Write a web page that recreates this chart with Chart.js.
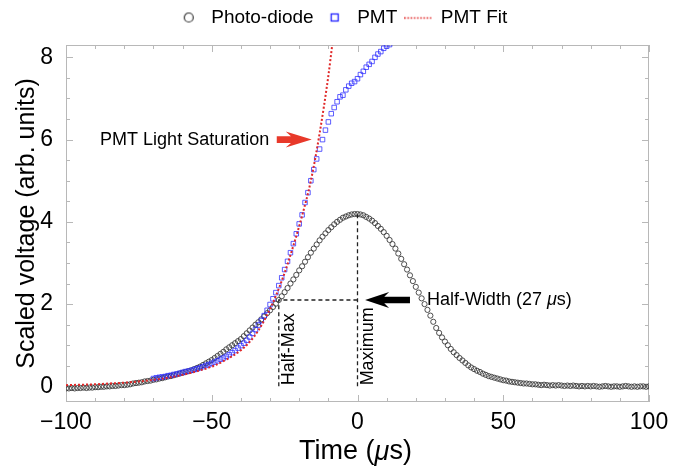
<!DOCTYPE html>
<html>
<head>
<meta charset="utf-8">
<script src="https://cdn.jsdelivr.net/npm/chart.js@4.4.0/dist/chart.umd.min.js"></script>
<style>
html, body { margin: 0; padding: 0; background: #fff; }
#wrap { width: 683px; height: 470px; }
</style>
</head>
<body>
<div id="wrap"><canvas id="myChart" width="683" height="470"></canvas></div>
<script>
// photo-diode trace, one sample per microsecond
var pdTime = [
  -100,-99,-98,-97,-96,-95,-94,-93,-92,-91,-90,-89,-88,-87,-86,-85,-84,-83,-82,-81,
  -80,-79,-78,-77,-76,-75,-74,-73,-72,-71,-70,-69,-68,-67,-66,-65,-64,-63,-62,-61,
  -60,-59,-58,-57,-56,-55,-54,-53,-52,-51,-50,-49,-48,-47,-46,-45,-44,-43,-42,-41,
  -40,-39,-38,-37,-36,-35,-34,-33,-32,-31,-30,-29,-28,-27,-26,-25,-24,-23,-22,-21,
  -20,-19,-18,-17,-16,-15,-14,-13,-12,-11,-10,-9,-8,-7,-6,-5,-4,-3,-2,-1,
  0,1,2,3,4,5,6,7,8,9,10,11,12,13,14,15,16,17,18,19,
  20,21,22,23,24,25,26,27,28,29,30,31,32,33,34,35,36,37,38,39,
  40,41,42,43,44,45,46,47,48,49,50,51,52,53,54,55,56,57,58,59,
  60,61,62,63,64,65,66,67,68,69,70,71,72,73,74,75,76,77,78,79,
  80,81,82,83,84,85,86,87,88,89,90,91,92,93,94,95,96,97,98,99,100
];
var pdValue = [
  -0.05,-0.05,-0.04,-0.05,-0.04,-0.04,-0.03,-0.04,-0.03,-0.03,
  -0.02,-0.02,-0.01,-0.01,0.00,0.00,0.01,0.01,0.02,0.03,
  0.03,0.04,0.05,0.07,0.08,0.09,0.10,0.12,0.13,0.14,
  0.16,0.17,0.19,0.20,0.22,0.24,0.25,0.27,0.29,0.31,
  0.33,0.35,0.37,0.39,0.42,0.45,0.48,0.52,0.56,0.60,
  0.64,0.69,0.74,0.79,0.84,0.90,0.95,1.00,1.05,1.10,
  1.15,1.22,1.29,1.36,1.43,1.50,1.56,1.63,1.70,1.78,
  1.85,1.93,2.01,2.10,2.19,2.29,2.39,2.50,2.60,2.71,
  2.82,2.92,3.03,3.14,3.25,3.35,3.45,3.55,3.64,3.72,
  3.80,3.87,3.94,4.00,4.05,4.10,4.13,4.16,4.18,4.19,
  4.19,
  4.18,4.16,4.12,4.08,4.03,3.97,3.90,3.83,3.75,3.66,
  3.56,3.46,3.35,3.23,3.10,2.97,2.84,2.70,2.56,2.42,
  2.28,2.14,2.00,1.86,1.72,1.57,1.42,1.30,1.19,1.09,
  1.00,0.91,0.83,0.76,0.69,0.63,0.57,0.51,0.46,0.42,
  0.38,0.35,0.31,0.28,0.25,0.23,0.21,0.19,0.17,0.15,
  0.14,0.12,0.11,0.10,0.09,0.08,0.07,0.07,0.06,0.05,
  0.05,0.04,0.03,0.04,0.03,0.02,0.03,0.02,0.03,0.02,
  0.01,0.02,0.01,0.02,0.01,0.00,0.01,0.00,0.01,0.00,
  0.01,0.00,-0.01,0.00,0.01,0.00,-0.01,0.00,0.00,-0.01,
  0.00,0.01,0.00,-0.01,0.00,-0.01,0.00,0.00,-0.01,0.00
];

// PMT trace
var pmtTime = [
  -70,-69,-68,-67,-66,-65,-64,-63,-62,-61,-60,-59,-58,-57,-56,-55,-54,-53,-52,-51,
  -50,-49,-48,-47,-46,-45,-44,-43,-42,-41,-40,-39,-38,-37,-36,-35,-34,-33,-32,-31,
  -30,-29,-28,-27,-26,-25,-24,-23,-22,-21,-20,-19,-18,-17,-16,-15,-14,-13,-12,-11,
  -10,-9,-8,-7,-6,-5,-4,-3,-2,-1,0,1,2,3,4,5,6,7,8,9,10,11
];
var pmtValue = [
  0.19,0.21,0.22,0.23,0.24,0.26,0.27,0.29,0.30,0.32,
  0.34,0.36,0.37,0.39,0.41,0.43,0.45,0.48,0.51,0.53,
  0.56,0.59,0.62,0.66,0.69,0.73,0.77,0.82,0.87,0.93,
  0.99,1.05,1.12,1.20,1.29,1.38,1.49,1.60,1.72,1.85,
  1.99,2.13,2.28,2.45,2.64,2.84,3.04,3.25,3.47,3.71,
  3.95,4.17,4.47,4.71,5.00,5.27,5.53,5.77,6.00,6.23,
  6.43,6.63,6.78,6.92,7.04,7.08,7.21,7.30,7.37,7.41,
  7.48,7.58,7.66,7.76,7.83,7.90,8.00,8.08,8.14,8.22,8.27,8.31
];

// PMT fit curve
var fitTime = [-100,-95,-90,-85,-80,-75,-70,-65,-60,-55,-50,-45,-40,-37,-34,-31,-28,-25,-22,-19,-16,-13,-10,-8.5];
var fitValue = [0.03,0.04,0.05,0.07,0.09,0.12,0.16,0.21,0.28,0.37,0.48,0.65,0.88,1.08,1.36,1.74,2.2,2.76,3.42,4.15,5.0,6.15,7.55,8.4];

var xTickValues = [-100, -50, 0, 50, 100];
var yTickValues = [0, 2, 4, 6, 8];
var xMinorStep = 10;
var yMinorStep = 0.5;

// annotation anchors (data units)
var peakTime = 0, peakLevel = 4.19;
var halfTime = -27, halfLevel = 2.1;

var FONT = '"Liberation Sans", Arial, Helvetica, sans-serif';

function toPoints(xs, ys) {
    return xs.map(function (x, i) { return { x: x, y: ys[i] }; });
}

function legendIcon(kind) {
    var c = document.createElement('canvas');
    c.width = 28;
    c.height = 12;
    var g = c.getContext('2d');
    if (kind === 'circle') {
        g.strokeStyle = '#333';
        g.lineWidth = 1.2;
        g.beginPath();
        g.arc(14, 6, 4.5, 0, Math.PI * 2);
        g.stroke();
    } else if (kind === 'rect') {
        g.strokeStyle = '#2020ff';
        g.lineWidth = 1.3;
        g.strokeRect(10.5, 2.5, 7, 7);
    } else {
        g.strokeStyle = '#e02828';
        g.lineWidth = 1.4;
        g.setLineDash([1.6, 1.6]);
        g.beginPath();
        g.moveTo(0, 6.5);
        g.lineTo(28, 6.5);
        g.stroke();
    }
    return c;
}
var icons = [legendIcon('circle'), legendIcon('rect'), legendIcon('line')];

function drawArrow(ctx, tipX, tailX, y, headLen, headHalf, shaftHalf, color) {
    var d = tailX < tipX ? 1 : -1;
    ctx.save();
    ctx.fillStyle = color;
    ctx.beginPath();
    ctx.moveTo(tipX, y);
    ctx.lineTo(tipX - d * headLen, y - headHalf);
    ctx.lineTo(tipX - d * headLen * 0.8, y - shaftHalf);
    ctx.lineTo(tailX, y - shaftHalf);
    ctx.lineTo(tailX, y + shaftHalf);
    ctx.lineTo(tipX - d * headLen * 0.8, y + shaftHalf);
    ctx.lineTo(tipX - d * headLen, y + headHalf);
    ctx.closePath();
    ctx.fill();
    ctx.restore();
}

// text with an italic mu in the middle
function mixedText(ctx, parts, x, y, size, align) {
    var widths = parts.map(function (p) {
        ctx.font = (p[1] ? 'italic ' : '') + size + 'px ' + FONT;
        return ctx.measureText(p[0]).width;
    });
    var total = widths.reduce(function (a, b) { return a + b; }, 0);
    var tx = align === 'center' ? x - total / 2 : x;
    ctx.textAlign = 'left';
    parts.forEach(function (p, i) {
        ctx.font = (p[1] ? 'italic ' : '') + size + 'px ' + FONT;
        ctx.fillText(p[0], tx, y);
        tx += widths[i];
    });
}

var frameDecor = {
    id: 'frameDecor',
    beforeDatasetsDraw: function (chart) {
        var ctx = chart.ctx, a = chart.chartArea;
        var xs = chart.scales.x, ys = chart.scales.y;
        ctx.save();
        ctx.strokeStyle = '#b8b8b8';
        ctx.lineWidth = 1;
        ctx.strokeRect(a.left + 0.5, a.top + 0.5, a.right - a.left - 1, a.bottom - a.top - 1);
        ctx.beginPath();
        for (var t = xs.min; t <= xs.max; t += xMinorStep) {
            var len = xTickValues.indexOf(t) >= 0 ? 7 : 4;
            var p = Math.round(xs.getPixelForValue(t)) + 0.5;
            ctx.moveTo(p, a.bottom);
            ctx.lineTo(p, a.bottom - len);
            ctx.moveTo(p, a.top);
            ctx.lineTo(p, a.top + len);
        }
        for (var v = 0; v <= ys.max; v += yMinorStep) {
            var len2 = yTickValues.indexOf(v) >= 0 ? 7 : 4;
            var q = Math.round(ys.getPixelForValue(v)) + 0.5;
            ctx.moveTo(a.left, q);
            ctx.lineTo(a.left + len2, q);
            ctx.moveTo(a.right, q);
            ctx.lineTo(a.right - len2, q);
        }
        ctx.stroke();
        ctx.restore();
    },
    afterDatasetsDraw: function (chart) {
        var ctx = chart.ctx, a = chart.chartArea;
        var xs = chart.scales.x, ys = chart.scales.y;
        var px = function (v) { return xs.getPixelForValue(v); };
        var py = function (v) { return ys.getPixelForValue(v); };

        ctx.save();
        ctx.strokeStyle = '#222';
        ctx.lineWidth = 1.3;
        ctx.setLineDash([4, 3]);
        ctx.beginPath();
        ctx.moveTo(px(halfTime), py(0));
        ctx.lineTo(px(halfTime), py(halfLevel));
        ctx.lineTo(px(peakTime), py(halfLevel));
        ctx.moveTo(px(peakTime), py(0));
        ctx.lineTo(px(peakTime), py(peakLevel));
        ctx.stroke();
        ctx.setLineDash([]);

        ctx.fillStyle = '#000';
        ctx.font = '18px ' + FONT;
        ctx.textBaseline = 'middle';
        ctx.textAlign = 'left';

        // rotated labels
        ctx.save();
        ctx.translate(px(halfTime) + 10, py(0) - 1);
        ctx.rotate(-Math.PI / 2);
        ctx.fillText('Half-Max', 0, 0);
        ctx.restore();
        ctx.save();
        ctx.translate(px(peakTime) + 11, py(0) - 1);
        ctx.rotate(-Math.PI / 2);
        ctx.fillText('Maximum', 0, 0);
        ctx.restore();

        // half-width arrow + text
        drawArrow(ctx, px(2.6), px(18), py(halfLevel), 24, 8, 3.2, '#000');
        mixedText(ctx, [['Half-Width (27 ', false], ['\u03bc', true], ['s)', false]], px(23.8), py(halfLevel), 18, 'left');

        // saturation arrow + text
        ctx.font = '18px ' + FONT;
        ctx.fillText('PMT Light Saturation', px(-88.3), py(6));
        drawArrow(ctx, px(-15.7), px(-27.7), py(6), 26, 8, 3.4, '#e8392a');

        // x axis title
        mixedText(ctx, [['Time (', false], ['\u03bc', true], ['s)', false]], (a.left + a.right) / 2 - 2, 452, 27, 'center');
        ctx.restore();
    }
};

var ctx = document.getElementById('myChart').getContext('2d');
var myChart = new Chart(ctx, {
    type: 'scatter',
    data: {
        datasets: [{
            label: 'Photo-diode',
            data: toPoints(pdTime, pdValue),
            pointStyle: 'circle',
            pointRadius: 2.6,
            pointBorderWidth: 1,
            borderColor: 'rgba(60,60,60,0.9)',
            backgroundColor: 'rgba(0,0,0,0)',
            order: 2
        }, {
            label: 'PMT',
            data: toPoints(pmtTime, pmtValue),
            pointStyle: 'rect',
            pointRadius: 3.2,
            pointBorderWidth: 1,
            borderColor: 'rgba(40,40,255,0.75)',
            backgroundColor: 'rgba(0,0,0,0)',
            order: 1
        }, {
            label: 'PMT Fit',
            data: toPoints(fitTime, fitValue),
            showLine: true,
            pointRadius: 0,
            borderColor: '#e02828',
            borderWidth: 2,
            borderDash: [2, 2],
            cubicInterpolationMode: 'monotone',
            order: 0
        }]
    },
    options: {
        responsive: false,
        animation: false,
        devicePixelRatio: 1,
        events: [],
        layout: { padding: 0 },
        plugins: {
            tooltip: { enabled: false },
            // spacer between legend and plot frame
            title: {
                display: true,
                text: ' ',
                weight: 100,
                padding: 0,
                font: { size: 8, lineHeight: 1 }
            },
            legend: {
                display: true,
                position: 'top',
                labels: {
                    usePointStyle: true,
                    pointStyleWidth: 26,
                    boxHeight: 12,
                    padding: 8,
                    color: '#000',
                    font: { size: 19, family: FONT },
                    generateLabels: function (chart) {
                        return chart.data.datasets.map(function (ds, i) {
                            return {
                                text: ds.label,
                                pointStyle: icons[i],
                                datasetIndex: i,
                                hidden: false,
                                fontColor: '#000',
                                lineWidth: 0,
                                strokeStyle: 'rgba(0,0,0,0)',
                                fillStyle: 'rgba(0,0,0,0)'
                            };
                        });
                    }
                }
            }
        },
        scales: {
            x: {
                type: 'linear',
                min: -100,
                max: 100,
                afterBuildTicks: function (scale) {
                    scale.ticks = xTickValues.map(function (v) { return { value: v }; });
                },
                afterFit: function (scale) { scale.height = 68; },
                grid: { display: false, drawTicks: false },
                border: { display: false },
                ticks: {
                    color: '#000',
                    padding: 7,
                    font: { size: 23, family: FONT },
                    maxRotation: 0,
                    callback: function (v) { return String(v).replace('-', '\u2212'); }
                },
                title: { display: false }
            },
            y: {
                type: 'linear',
                min: -0.38,
                max: 8.3,
                afterBuildTicks: function (scale) {
                    scale.ticks = yTickValues.map(function (v) { return { value: v }; });
                },
                afterFit: function (scale) { scale.width = 66; },
                grid: { display: false, drawTicks: false },
                border: { display: false },
                ticks: {
                    color: '#000',
                    padding: 13,
                    font: { size: 23, family: FONT },
                    callback: function (v) { return String(v); }
                },
                title: {
                    display: true,
                    text: 'Scaled voltage (arb. units)',
                    color: '#000',
                    font: { size: 25, family: FONT },
                    padding: { top: 12, bottom: 0 }
                }
            },
            yRight: {
                type: 'linear',
                position: 'right',
                display: true,
                afterFit: function (scale) { scale.width = 34; },
                grid: { display: false, drawTicks: false },
                border: { display: false },
                ticks: { display: false }
            }
        }
    },
    plugins: [frameDecor]
});
</script>
</body>
</html>
